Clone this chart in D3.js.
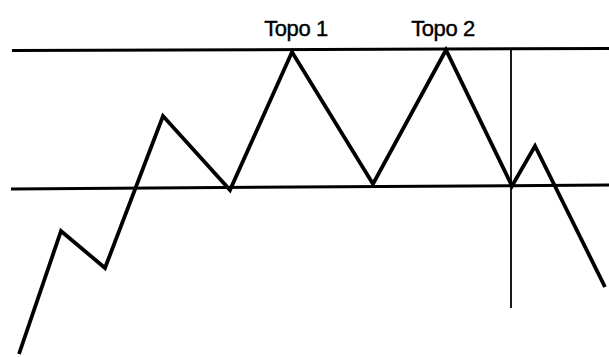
<!DOCTYPE html>
<html>
<head>
<meta charset="utf-8">
<script src="https://cdn.jsdelivr.net/npm/d3@7"></script>
<style>
  body { margin: 0; background: #fff; }
  svg { display: block; }
</style>
</head>
<body>
<div id="chart"></div>
<script>
// price path (time, price) - double top pattern
const times  = [19, 61, 105, 163, 230, 292, 373, 446, 512, 535, 605];
const prices = [3, 126, 89, 241, 167, 305, 173, 307, 171, 211, 70];

// resistance and support lines (time, price at ends)
const resistance = [[12, 306.5], [609, 308.5]];
const support    = [[11, 168], [609, 172]];

// neckline break marker
const breakLine = [[511, 307], [511, 49]];

// labels
const labels     = ["Topo 1", "Topo 2"];
const labelTimes = [296, 443];
const labelPrice = 321;

const width = 609, height = 357;

const svg = d3.select("#chart").append("svg")
    .attr("width", width)
    .attr("height", height);

const x = d3.scaleLinear().domain([0, 609]).range([0, width]);
const y = d3.scaleLinear().domain([0, 357]).range([height, 0]);

const line = d3.line()
    .x(d => x(d[0]))
    .y(d => y(d[1]));

// horizontal lines
[resistance, support].forEach(l => {
    svg.append("path")
        .datum(l)
        .attr("d", line)
        .attr("fill", "none")
        .attr("stroke", "#000")
        .attr("stroke-width", 3);
});

// vertical line
svg.append("path")
    .datum(breakLine)
    .attr("d", line)
    .attr("fill", "none")
    .attr("stroke", "#000")
    .attr("stroke-width", 1.8);

// zigzag
svg.append("path")
    .datum(times.map((t, i) => [t, prices[i]]))
    .attr("d", line)
    .attr("fill", "none")
    .attr("stroke", "#000")
    .attr("stroke-width", 3.8)
    .attr("stroke-linejoin", "miter");

svg.selectAll(".lbl")
    .data(labels)
    .enter()
    .append("text")
    .attr("class", "lbl")
    .attr("x", (d, i) => x(labelTimes[i]))
    .attr("y", y(labelPrice))
    .attr("text-anchor", "middle")
    .style("font-family", "'Liberation Sans', Arial, sans-serif")
    .style("font-size", "22px")
    .style("letter-spacing", "-0.4px")
    .style("stroke", "#000")
    .style("stroke-width", 0.4)
    .text(d => d);
</script>
</body>
</html>
